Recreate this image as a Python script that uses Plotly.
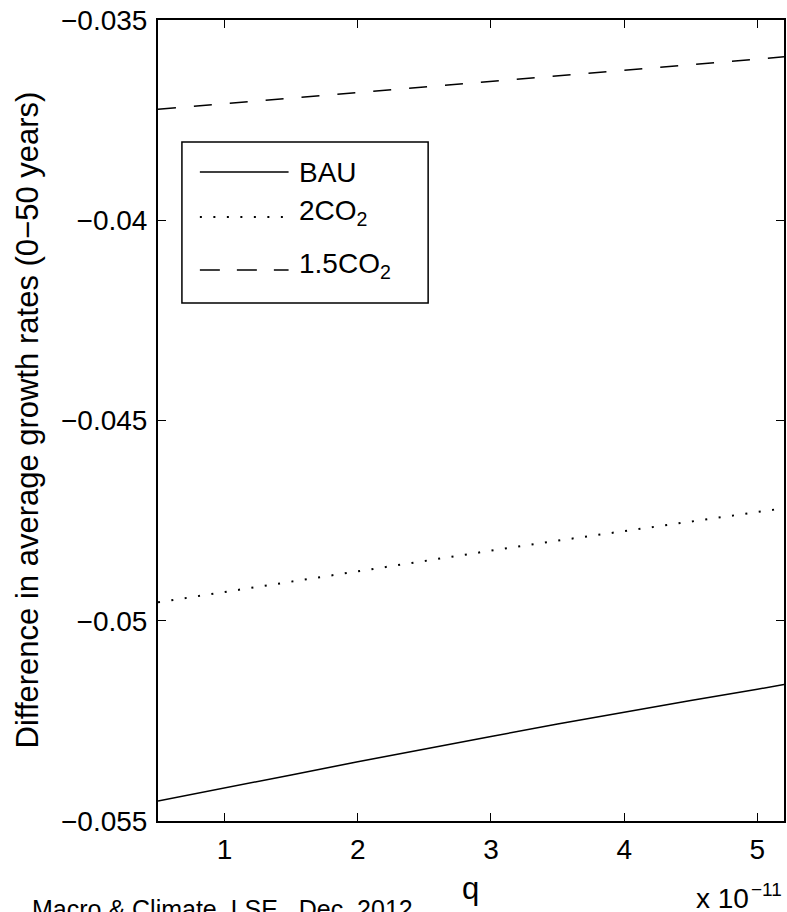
import plotly.graph_objects as go

# q values in units of 1e-11
q = [0.5, 1.0, 1.5, 2.0, 2.5, 3.0, 3.5, 4.0, 4.5, 5.0, 5.2]
bau = [-0.05450, -0.05418, -0.05385, -0.05352, -0.05320, -0.05289, -0.05258, -0.05228, -0.05199, -0.05171, -0.05159]
co2_2 = [-0.04954, -0.04928, -0.04902, -0.04876, -0.04850, -0.04825, -0.04800, -0.04776, -0.04752, -0.04729, -0.04719]
co2_15 = [-0.03723, -0.03709, -0.03695, -0.03681, -0.03667, -0.03653, -0.03639, -0.03625, -0.03612, -0.03598, -0.03592]

x_ticks = [1, 2, 3, 4, 5]
y_ticks = [-0.055, -0.05, -0.045, -0.04, -0.035]
y_ticktext = ["\u22120.055", "\u22120.05", "\u22120.045", "\u22120.04", "\u22120.035"]

FONT = "Liberation Sans, Arial, Helvetica, sans-serif"
FS = 28      # tick / legend font
FL = 31      # axis label font

fig = go.Figure()
fig.add_trace(go.Scatter(x=q, y=bau, mode="lines", name="BAU",
                         line=dict(color="black", width=1.5)))
fig.add_trace(go.Scatter(x=q, y=co2_2, mode="lines", name="2CO<sub>2</sub>",
                         line=dict(color="black", width=2, dash="2px,11.5px")))
fig.add_trace(go.Scatter(x=q, y=co2_15, mode="lines", name="1.5CO<sub>2</sub>",
                         line=dict(color="black", width=1.5, dash="18px,18px")))

axis_common = dict(showline=True, linecolor="black", linewidth=2, mirror="ticks",
                   ticks="inside", ticklen=8, tickwidth=1, tickcolor="black",
                   showgrid=False, zeroline=False,
                   tickfont=dict(family=FONT, size=FS, color="black"))

fig.update_xaxes(range=[0.5, 5.2], tickvals=x_ticks, ticktext=[str(v) for v in x_ticks],
                 ticklabelstandoff=2, **axis_common)
fig.update_yaxes(range=[-0.055, -0.035], tickvals=y_ticks, ticktext=y_ticktext,
                 ticklabelstandoff=3, **axis_common)

W, H = 787, 912
L, R, T, B = 158, 1, 20, 91
pw, ph = W - L - R, H - T - B

def px(xp):
    return (xp - L) / pw

def py(yp):
    return (H - B - yp) / ph

shapes = []
annotations = []

# custom legend box
shapes.append(dict(type="rect", xref="paper", yref="paper",
                   x0=px(182), x1=px(429), y0=py(303), y1=py(142),
                   line=dict(color="black", width=1.5), fillcolor="white", layer="above"))
legend_rows = [
    ("BAU", 172, 172, dict(color="black", width=1.5)),
    ("2CO<sub>2</sub>", 217, 212, dict(color="black", width=2, dash="2px,11.5px")),
    ("1.5CO<sub>2</sub>", 270, 265, dict(color="black", width=1.5, dash="20px,17px")),
]
for label, yrow, ytxt, ln in legend_rows:
    shapes.append(dict(type="line", xref="paper", yref="paper",
                       x0=px(200), x1=px(289), y0=py(yrow), y1=py(yrow), line=ln, layer="above"))
    annotations.append(dict(text=label, xref="paper", yref="paper", x=px(297), y=py(ytxt),
                            xanchor="left", yanchor="middle", showarrow=False,
                            font=dict(family=FONT, size=FS, color="black")))

# axis titles
annotations.append(dict(text="Difference in average growth rates (0\u221250 years)",
                        xref="paper", yref="paper", x=px(27), y=py(420), textangle=-90,
                        xanchor="center", yanchor="middle", showarrow=False,
                        font=dict(family=FONT, size=FL, color="black")))
annotations.append(dict(text="q", xref="paper", yref="paper", x=px(471), y=py(888),
                        xanchor="center", yanchor="middle", showarrow=False,
                        font=dict(family=FONT, size=FL, color="black")))
# axis multiplier "x 10^-11"
annotations.append(dict(text="x 10", xref="paper", yref="paper", x=px(696), y=py(898),
                        xanchor="left", yanchor="middle", showarrow=False,
                        font=dict(family=FONT, size=FS, color="black")))
annotations.append(dict(text="\u221211", xref="paper", yref="paper", x=px(751), y=py(889),
                        xanchor="left", yanchor="middle", showarrow=False,
                        font=dict(family=FONT, size=19, color="black")))
annotations.append(dict(text="Macro &amp; Climate, LSE , Dec. 2012", xref="paper", yref="paper",
                        x=px(30), y=py(909), xanchor="left", yanchor="middle", showarrow=False,
                        font=dict(family=FONT, size=25, color="black")))

fig.update_layout(width=W, height=H, margin=dict(l=L, r=R, t=T, b=B, pad=0),
                  plot_bgcolor="white", paper_bgcolor="white", showlegend=False,
                  shapes=shapes, annotations=annotations,
                  font=dict(family=FONT, size=FS, color="black"))

fig.write_html("out.html", config={"displayModeBar": False},
               post_script="document.body.style.margin='0';document.body.style.overflow='hidden';")
